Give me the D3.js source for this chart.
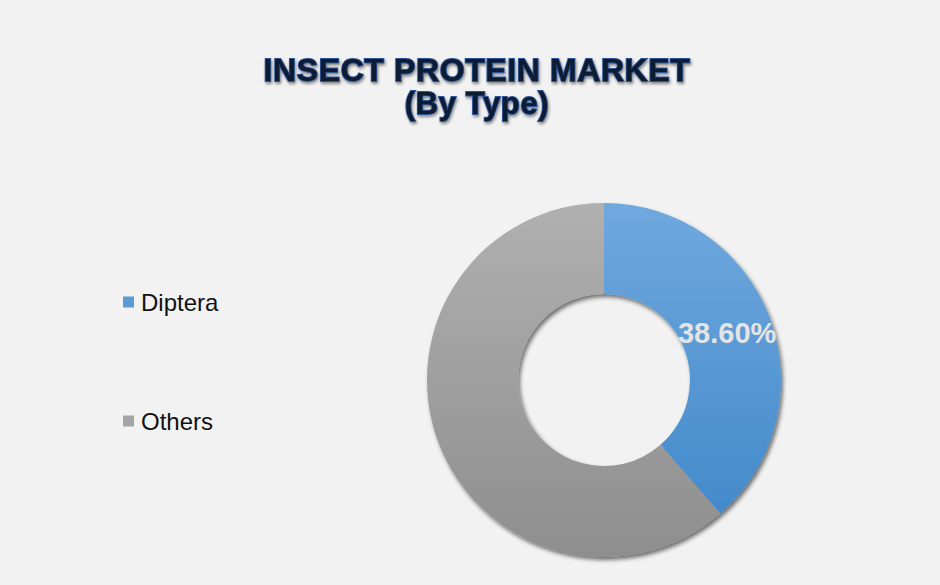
<!DOCTYPE html>
<html>
<head>
<meta charset="utf-8">
<script src="https://cdn.jsdelivr.net/npm/d3@7"></script>
<style>
  html, body { margin: 0; padding: 0; background: #f2f2f2; }
  svg { display: block; }
</style>
</head>
<body>
<script>
const titleLines = ["INSECT PROTEIN MARKET", "(By Type)"];
const categories = ["Diptera", "Others"];
const values = [38.6, 61.4];
const labels = ["38.60%", null];

const W = 940, H = 585;
const svg = d3.select("body").append("svg").attr("width", W).attr("height", H);
svg.append("rect").attr("width", W).attr("height", H).attr("fill", "#f2f2f2");

const defs = svg.append("defs");
const cx = 604, cy = 380, rOuter = 177, rInner = 86;

const grads = [
  { id: "gBlue", top: "#70a8de", bot: "#3d86c8" },
  { id: "gGrey", top: "#b0b0b0", bot: "#8e8e8e" }
];
grads.forEach(g => {
  const lg = defs.append("linearGradient").attr("id", g.id)
    .attr("gradientUnits", "userSpaceOnUse")
    .attr("x1", 0).attr("x2", 0).attr("y1", -rOuter).attr("y2", rOuter);
  lg.append("stop").attr("offset", "0%").attr("stop-color", g.top);
  lg.append("stop").attr("offset", "100%").attr("stop-color", g.bot);
});
const legendColors = ["#5b9bd5", "#a5a5a5"];

const sh = defs.append("filter").attr("id", "shadow")
  .attr("x", "-10%").attr("y", "-10%").attr("width", "120%").attr("height", "120%");
sh.append("feGaussianBlur").attr("in", "SourceAlpha").attr("stdDeviation", 2.2).attr("result", "b");
sh.append("feOffset").attr("in", "b").attr("dx", 2).attr("dy", 2.5).attr("result", "o");
sh.append("feComponentTransfer").attr("in", "o").attr("result", "o2")
  .append("feFuncA").attr("type", "linear").attr("slope", 0.55);
const m = sh.append("feMerge");
m.append("feMergeNode").attr("in", "o2");
m.append("feMergeNode").attr("in", "SourceGraphic");

const tf = defs.append("filter").attr("id", "tglow")
  .attr("x", "-5%").attr("y", "-20%").attr("width", "110%").attr("height", "150%");
tf.append("feGaussianBlur").attr("in", "SourceAlpha").attr("stdDeviation", 1.5).attr("result", "b");
tf.append("feOffset").attr("in", "b").attr("dx", 1).attr("dy", 2).attr("result", "o");
tf.append("feComponentTransfer").attr("in", "o").attr("result", "o2")
  .append("feFuncA").attr("type", "linear").attr("slope", 0.45);
const tm = tf.append("feMerge");
tm.append("feMergeNode").attr("in", "o2");
tm.append("feMergeNode").attr("in", "SourceGraphic");

// Title
const title = svg.append("g").attr("filter", "url(#tglow)");
title.selectAll("text").data(titleLines).join("text")
  .attr("x", 477)
  .attr("y", (d, i) => 81 + i * 33)
  .attr("text-anchor", "middle")
  .attr("font-family", "Liberation Sans, Arial, sans-serif")
  .attr("font-weight", "bold")
  .attr("font-size", (d, i) => i === 0 ? 32 : 31)
  .attr("letter-spacing", 0.6)
  .attr("fill", "#0d1a33")
  .attr("stroke", "#2f5597")
  .attr("stroke-width", 1.8)
  .attr("paint-order", "stroke")
  .text(d => d);

// Donut
const pie = d3.pie().sort(null).value(d => d);
const arcs = pie(values);
const arc = d3.arc().innerRadius(rInner).outerRadius(rOuter);
const g = svg.append("g").attr("transform", `translate(${cx},${cy})`);
const ring = g.append("g").attr("filter", "url(#shadow)");
ring.selectAll("path").data(arcs).join("path")
  .attr("d", arc)
  .attr("fill", (d, i) => `url(#${grads[i].id})`);

// Data label
g.selectAll("text.lbl").data(arcs.filter(d => labels[d.index])).join("text")
  .attr("class", "lbl")
  .attr("x", d => arc.centroid(d)[0])
  .attr("y", d => arc.centroid(d)[1])
  .attr("dy", "0.33em")
  .attr("text-anchor", "middle")
  .attr("font-family", "Liberation Sans, Arial, sans-serif")
  .attr("font-weight", "bold")
  .attr("font-size", 29)
  .attr("fill", "#e4e4e4")
  .text(d => labels[d.index]);

// Legend
const leg = svg.append("g");
const legY = d3.scalePoint().domain(categories).range([302, 421]);
categories.forEach((c, i) => {
  leg.append("rect").attr("x", 123).attr("y", legY(c) - 5.5).attr("width", 11).attr("height", 11)
    .attr("fill", legendColors[i]);
  leg.append("text").attr("x", 141).attr("y", legY(c) + 8.5)
    .attr("font-family", "Liberation Sans, Arial, sans-serif")
    .attr("font-size", 24).attr("fill", "#111").text(c);
});
</script>
</body>
</html>
